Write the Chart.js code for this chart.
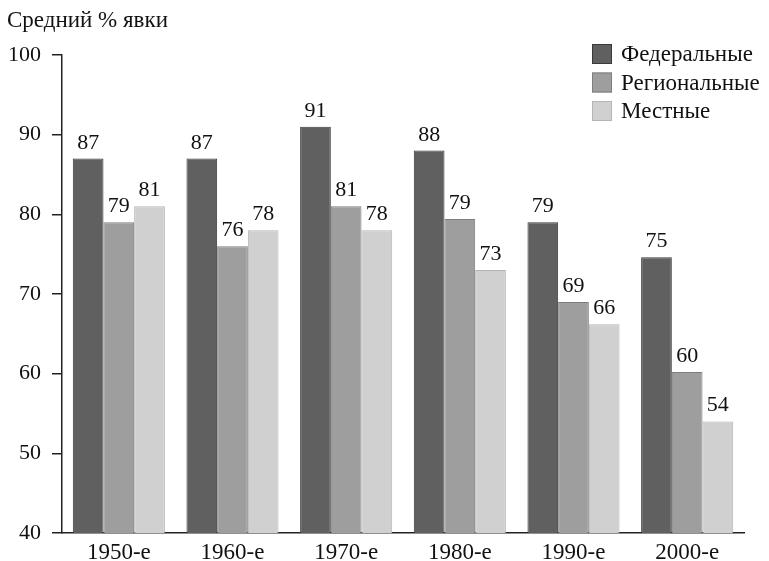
<!DOCTYPE html>
<html>
<head>
<meta charset="utf-8">
<script src="https://cdn.jsdelivr.net/npm/chart.js@4"></script>
<style>
    html, body { margin: 0; padding: 0; background: #fff; }
    #wrap { width: 769px; height: 561px; }
</style>
</head>
<body>
<div id="wrap"><canvas id="chart"></canvas></div>
<script>
// Data
const decades = ['1950-е', '1960-е', '1970-е', '1980-е', '1990-е', '2000-е'];
const federal = [87, 87, 91, 88, 79, 74.6];
const regional = [79, 76, 81, 79.4, 69, 60.2];
const local = [81, 78, 78, 73, 66.2, 54];
const seriesNames = ['Федеральные', 'Региональные', 'Местные'];
const yTitle = 'Средний % явки';

const FONT = '"Liberation Serif", "DejaVu Serif", serif';

// Value labels above bars
const barLabels = {
    id: 'barLabels',
    afterDatasetsDraw(chart) {
        const ctx = chart.ctx;
        ctx.save();
        ctx.font = '22px ' + FONT;
        ctx.fillStyle = '#111';
        ctx.textAlign = 'center';
        ctx.textBaseline = 'alphabetic';
        chart.data.datasets.forEach((ds, i) => {
            chart.getDatasetMeta(i).data.forEach((bar, j) => {
                ctx.fillText(Math.round(ds.data[j]), bar.x, bar.y - 10);
            });
        });
        ctx.restore();
    }
};

// Title + legend
const extras = {
    id: 'extras',
    afterDraw(chart) {
        const ctx = chart.ctx;
        ctx.save();
        ctx.font = '23px ' + FONT;
        ctx.fillStyle = '#111';
        ctx.textBaseline = 'middle';
        ctx.fillText(yTitle, 7, 21);

        chart.data.datasets.forEach((ds, i) => {
            const y = 54 + i * 28.5;
            ctx.fillStyle = ds.backgroundColor;
            ctx.fillRect(592, y - 10, 20, 20);
            ctx.strokeStyle = ds.borderColor;
            ctx.lineWidth = 1;
            ctx.strokeRect(592.5, y - 9.5, 19, 19);
            ctx.fillStyle = '#111';
            ctx.font = '23px ' + FONT;
            ctx.fillText(ds.label, 621, y + 1);
        });
        ctx.restore();
    }
};

const mk = (label, data, bg, border) => ({
    label, data,
    backgroundColor: bg,
    borderColor: border,
    borderWidth: 1,
    categoryPercentage: 0.81,
    barPercentage: 1.0
});

new Chart(document.getElementById('chart'), {
    type: 'bar',
    data: {
        labels: decades,
        datasets: [
            mk(seriesNames[0], federal, '#606060', '#3a3a3a'),
            mk(seriesNames[1], regional, '#9e9e9e', '#7e7e7e'),
            mk(seriesNames[2], local, '#d0d0d0', '#b4b4b4')
        ]
    },
    options: {
        responsive: true,
        maintainAspectRatio: false,
        animation: false,
        layout: { padding: { top: 55, right: 25, left: 0, bottom: 0 } },
        plugins: { legend: { display: false }, tooltip: { enabled: false } },
        scales: {
            x: {
                grid: { display: false },
                border: { color: '#222', width: 1.5 },
                ticks: { color: '#111', font: { family: FONT, size: 23, lineHeight: 1 }, padding: 0 },
                afterFit(s) { s.height = 28; }
            },
            y: {
                min: 40, max: 100,
                ticks: { stepSize: 10, color: '#111', font: { family: FONT, size: 22 }, padding: 11 },
                grid: { drawOnChartArea: false, drawTicks: true, tickLength: 10, color: '#222', lineWidth: 1.5 },
                border: { color: '#222', width: 1.5 },
                afterFit(s) { s.width = 62; }
            }
        }
    },
    plugins: [barLabels, extras]
});
</script>
</body>
</html>
